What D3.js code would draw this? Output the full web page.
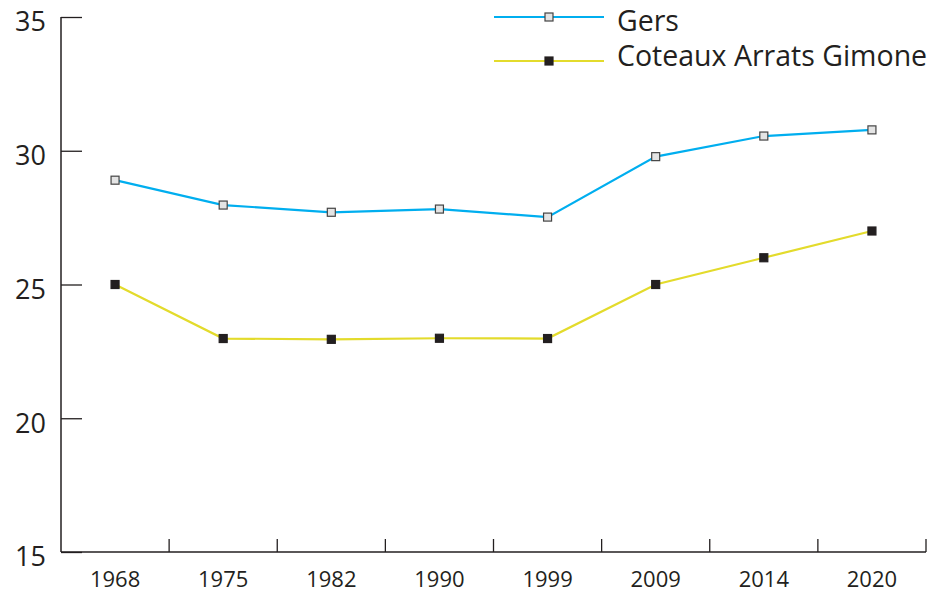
<!DOCTYPE html>
<html><head><meta charset="utf-8">
<script src="https://cdn.jsdelivr.net/npm/d3@7"></script>
<style>body{margin:0;background:#fff}svg{display:block}text{font-family:"Open Sans","DejaVu Sans",sans-serif;fill:#231f20}</style>
</head><body>
<svg id="c" width="939" height="592"></svg>
<script>
const years = ["1968","1975","1982","1990","1999","2009","2014","2020"];
const gers = [28.9, 27.97, 27.7, 27.82, 27.52, 29.78, 30.55, 30.78];
const coteaux = [25.0, 22.98, 22.95, 22.99, 22.98, 25.0, 26.0, 27.0];
const yTicks = [15, 20, 25, 30, 35];
const seriesNames = ["Gers", "Coteaux Arrats Gimone"];

const svg = d3.select("#c");
const x0 = 61, x1 = 926, yTop = 17, yBot = 552;
const x = d3.scaleBand().domain(years).range([x0, x1]);
const y = d3.scaleLinear().domain([15, 35]).range([yBot, yTop]);
const axisCol = "#231f20";

// y axis
const gy = svg.append("g").attr("transform", `translate(${x0},0)`)
  .call(d3.axisRight(y).tickValues(yTicks).tickSize(21).tickFormat(""));
gy.select(".domain").remove();
gy.selectAll("line").attr("stroke", axisCol).attr("stroke-width", 1.3);
svg.append("line").attr("x1", x0).attr("x2", x0).attr("y1", yTop).attr("y2", yBot)
  .attr("stroke", axisCol).attr("stroke-width", 1.5);
svg.selectAll("text.yl").data(yTicks).join("text").attr("class","yl")
  .attr("x", 46).attr("y", d => y(d) + 5).attr("dy", "0.35em")
  .attr("text-anchor", "end").attr("font-size", 27).text(d => d);

// x axis
svg.append("line").attr("x1", x0).attr("x2", x1).attr("y1", yBot).attr("y2", yBot)
  .attr("stroke", axisCol).attr("stroke-width", 1.5);
const bounds = years.map(d => x(d) + x.bandwidth());
svg.selectAll("line.xt").data(bounds).join("line").attr("class","xt")
  .attr("x1", d => d).attr("x2", d => d).attr("y1", yBot).attr("y2", yBot - 13)
  .attr("stroke", axisCol).attr("stroke-width", 1.3);
svg.selectAll("text.xl").data(years).join("text").attr("class","xl")
  .attr("x", d => x(d) + x.bandwidth()/2).attr("y", 587)
  .attr("text-anchor", "middle").attr("font-size", 22).text(d => d);

const cx = d => x(d) + x.bandwidth()/2;
const series = [
  {name: seriesNames[0], vals: gers, color: "#00aeef", fill: "#e4e4e4", stroke: "#444", ty: 31},
  {name: seriesNames[1], vals: coteaux, color: "#e3db2c", fill: "#231f20", stroke: "#231f20", ty: 66}
];
const line = d3.line().x((v,i) => cx(years[i])).y(v => y(v));
series.forEach(s => {
  svg.append("path").attr("d", line(s.vals)).attr("fill", "none")
    .attr("stroke", s.color).attr("stroke-width", 2.2);
  svg.selectAll(null).data(s.vals).join("rect")
    .attr("x", (v,i) => cx(years[i]) - 4).attr("y", v => y(v) - 4)
    .attr("width", 8).attr("height", 8)
    .attr("fill", s.fill).attr("stroke", s.stroke).attr("stroke-width", 1.2);
});

// legend
series.forEach((s, i) => {
  const ly = 17 + i * 44;
  svg.append("line").attr("x1", 494).attr("x2", 604).attr("y1", ly).attr("y2", ly)
    .attr("stroke", s.color).attr("stroke-width", 2.2);
  svg.append("rect").attr("x", 545).attr("y", ly - 4).attr("width", 8).attr("height", 8)
    .attr("fill", s.fill).attr("stroke", s.stroke).attr("stroke-width", 1.2);
  svg.append("text").attr("x", 617).attr("y", s.ty)
    .attr("font-size", 28.5).text(s.name);
});
</script>
</body></html>
